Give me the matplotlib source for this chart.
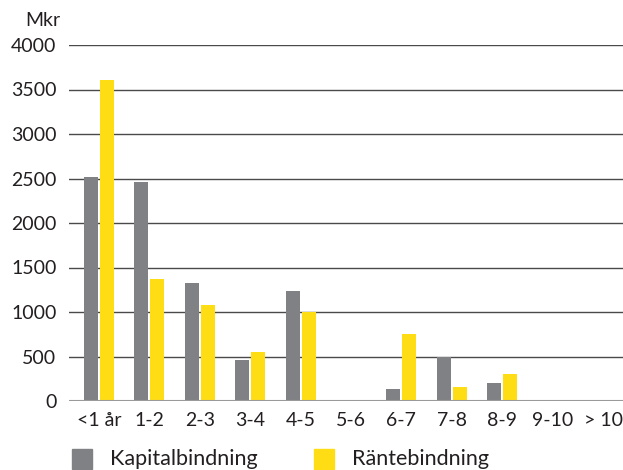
import matplotlib
matplotlib.use("Agg")
import matplotlib.pyplot as plt
import numpy as np
from matplotlib.patches import Rectangle

plt.rcParams['font.family'] = ['Lato', 'DejaVu Sans']

categories = ["<1 år", "1-2", "2-3", "3-4", "4-5", "5-6", "6-7", "7-8", "8-9", "9-10", "> 10"]
kapitalbindning = [2520, 2460, 1325, 460, 1235, 0, 135, 495, 200, 0, 0]
rantebindning = [3610, 1370, 1080, 550, 1000, 0, 755, 155, 305, 0, 0]
series_names = ["Kapitalbindning", "Räntebindning"]
yticks = [0, 500, 1000, 1500, 2000, 2500, 3000, 3500, 4000]

grey = "#808184"
yellow = "#FFDD15"
text_col = "#231f20"
fs = 14

W, H = 623, 470
fig = plt.figure(figsize=(W / 100, H / 100), dpi=100)
ax = fig.add_axes([69 / W, 1 - 401 / H, (W - 69) / W, 356 / H])

x = np.arange(len(categories))
step = 50.4
w = 14 / step
off = 8 / step
ax.bar(x - off, kapitalbindning, width=w, color=grey, zorder=3)
ax.bar(x + off, rantebindning, width=w, color=yellow, zorder=3)

ax.set_ylim(0, 4000)
ax.set_xlim((69 - 99) / step, (W - 99) / step)
ax.set_yticks(yticks)
ax.set_yticklabels([str(v) for v in yticks], fontsize=fs, color=text_col)
ax.set_xticks(x)
ax.set_xticklabels(categories, fontsize=fs, color=text_col)
ax.tick_params(axis='both', length=0)
ax.tick_params(axis='y', pad=9)
ax.tick_params(axis='x', pad=8)
ax.grid(axis='y', color="#4a4a4a", linewidth=1.0, zorder=0)
for s in ax.spines.values():
    s.set_visible(False)
ax.axhline(0, color="#9a9a9a", linewidth=1.5, zorder=4)

fig.text(60 / W, 1 - 20 / H, "Mkr", ha="right", va="center", fontsize=fs, color=text_col)

# legend drawn below the axes
for px, name, col in [(72, series_names[0], grey), (314, series_names[1], yellow)]:
    fig.patches.append(Rectangle((px / W, 1 - 469 / H), 20 / W, 20 / H,
                                 transform=fig.transFigure, color=col))
    fig.text((px + 38) / W, 1 - 459 / H, name, ha="left", va="center",
             fontsize=15.5, color=text_col)

fig.savefig("out.png", dpi=100)
